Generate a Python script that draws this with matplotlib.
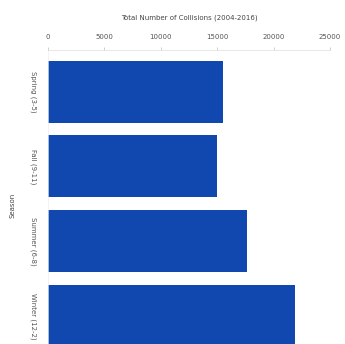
import matplotlib
matplotlib.use("Agg")
import matplotlib.pyplot as plt

# values
seasons = ["Spring (3-5)", "Fall (9-11)", "Summer (6-8)", "Winter (12-2)"]
collisions = [15500, 14950, 17600, 21900]
x_ticks = [0, 5000, 10000, 15000, 20000, 25000]

fig = plt.figure(figsize=(3.45, 3.44), dpi=100)
# axes runs off the bottom of the canvas, like the cropped reference
ax = fig.add_axes([48 / 345, 1 - 360 / 344, 282 / 345, 310 / 344])

ax.barh(range(len(seasons)), collisions, height=0.83, color="#1048b0")
ax.set_xlim(0, 25000)
ax.set_ylim(3.59, -0.556)

ax.xaxis.tick_top()
ax.xaxis.set_label_position("top")
ax.set_xticks(x_ticks)
ax.set_xticklabels([str(t) for t in x_ticks], fontsize=5, color="#555555")
ax.tick_params(axis="x", length=2, width=0.5, color="#bbbbbb", pad=5)
ax.set_xlabel("Total Number of Collisions (2004-2016)", fontsize=5,
              color="#444444", labelpad=11)

ax.set_yticks(range(len(seasons)))
ax.set_yticklabels(seasons, rotation=-90, va="center", fontsize=5,
                   color="#555555")
ax.tick_params(axis="y", length=0, pad=8)
ax.set_ylabel("Season", fontsize=5, color="#444444", labelpad=11)

for side in ["right", "bottom"]:
    ax.spines[side].set_visible(False)
ax.spines["top"].set_color("#dddddd")
ax.spines["top"].set_linewidth(0.5)
ax.spines["left"].set_color("#eeeeee")
ax.spines["left"].set_linewidth(0.5)

fig.savefig("out.png", dpi=100)
